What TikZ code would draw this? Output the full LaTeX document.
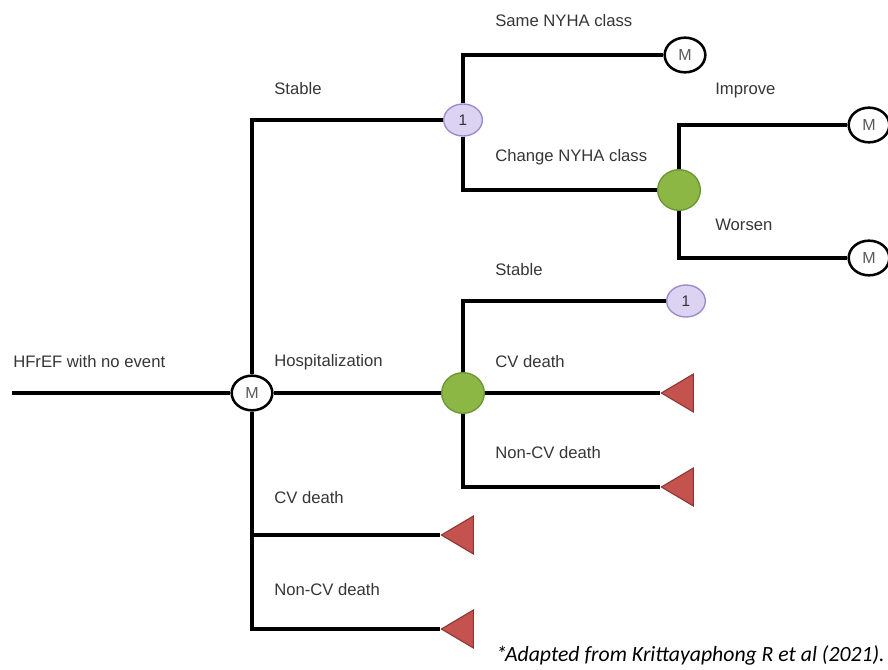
\documentclass[tikz,border=0pt]{standalone}
\usepackage{fontspec}
\setmainfont{Liberation Sans}
\newfontfamily\notefont{Carlito}
\usetikzlibrary{shapes.geometric}
\definecolor{lilacfill}{HTML}{DCD2F2}
\definecolor{lilacline}{HTML}{9C88C9}
\definecolor{leaffill}{HTML}{8CB745}
\definecolor{leafline}{HTML}{6A9532}
\definecolor{endfill}{HTML}{C4524E}
\definecolor{endline}{HTML}{8E3533}
\definecolor{labelgray}{HTML}{363636}
\begin{document}
\begin{tikzpicture}[x=0.75pt,y=-0.75pt,
  branch/.style={line width=2.4pt},
  markov/.style={ellipse,draw,line width=1.9pt,fill=white,inner sep=0pt,minimum width=30.5pt,minimum height=26pt,font=\fontsize{12}{12}\selectfont,text=black!65},
  chanceone/.style={ellipse,draw=lilacline,line width=1pt,fill=lilacfill,inner sep=0pt,minimum width=29pt,minimum height=24pt,font=\fontsize{11.5}{12}\selectfont,text=black!80},
  chance/.style={ellipse,draw=leafline,line width=1pt,fill=leaffill,inner sep=0pt,minimum width=32pt,minimum height=30.5pt},
  terminal/.style={isosceles triangle,isosceles triangle stretches,shape border rotate=180,draw=endline,line width=0.8pt,fill=endfill,inner sep=0pt,minimum width=28.5pt,minimum height=24pt},
  lbl/.style={anchor=west,inner sep=0pt,text=labelgray,font=\fontsize{12.5}{14}\selectfont}]
\useasboundingbox (0,0) rectangle (888,670);
\coordinate (start) at (12,393);
\node[markov] (m0) at (252,393) {M};
\node[chanceone] (c1) at (463,120) {1};
\node[markov] (m1) at (685,55) {M};
\node[chance] (c2) at (679,190) {};
\node[markov] (m2) at (869,125) {M};
\node[markov] (m3) at (869,258) {M};
\node[chance] (c3) at (463,393) {};
\node[chanceone] (c4) at (686,301) {1};
\node[terminal,anchor=apex] (t1) at (660,393) {};
\node[terminal,anchor=apex] (t2) at (660,487) {};
\node[terminal,anchor=apex] (t3) at (440,535) {};
\node[terminal,anchor=apex] (t4) at (440,629) {};
\draw[branch] (start) -- (m0);
\draw[branch] (m0) |- (c1);
\draw[branch] (m0) -- (c3);
\draw[branch] (m0) |- (t3.apex);
\draw[branch] (m0) |- (t4.apex);
\draw[branch] (c1) |- (m1);
\draw[branch] (c1) |- (c2);
\draw[branch] (c2) |- (m2);
\draw[branch] (c2) |- (m3);
\draw[branch] (c3) |- (c4);
\draw[branch] (c3) -- (t1.apex);
\draw[branch] (c3) |- (t2.apex);
\node[lbl] (start label) at (13,362) {HFrEF with no event};
\node[lbl] (stable label) at (274,89) {Stable};
\node[lbl] (hosp label) at (274,362) {Hospitalization};
\node[lbl] (cv label) at (274,498) {CV death};
\node[lbl] (noncv label) at (274,590) {Non-CV death};
\node[lbl] (same label) at (495,21) {Same NYHA class};
\node[lbl] (change label) at (495,157) {Change NYHA class};
\node[lbl] (improve label) at (715,90) {Improve};
\node[lbl] (worsen label) at (715,225) {Worsen};
\node[lbl] (stable2 label) at (495,270) {Stable};
\node[lbl] (cv2 label) at (495,362) {CV death};
\node[lbl] (noncv2 label) at (495,453) {Non-CV death};
\node[anchor=east,inner sep=0pt,font=\notefont\itshape\fontsize{16.3}{18}\selectfont] (source) at (885,655) {*\kern-1.5pt Adapted from Krittayaphong R et al (2021).};
\end{tikzpicture}
\end{document}
